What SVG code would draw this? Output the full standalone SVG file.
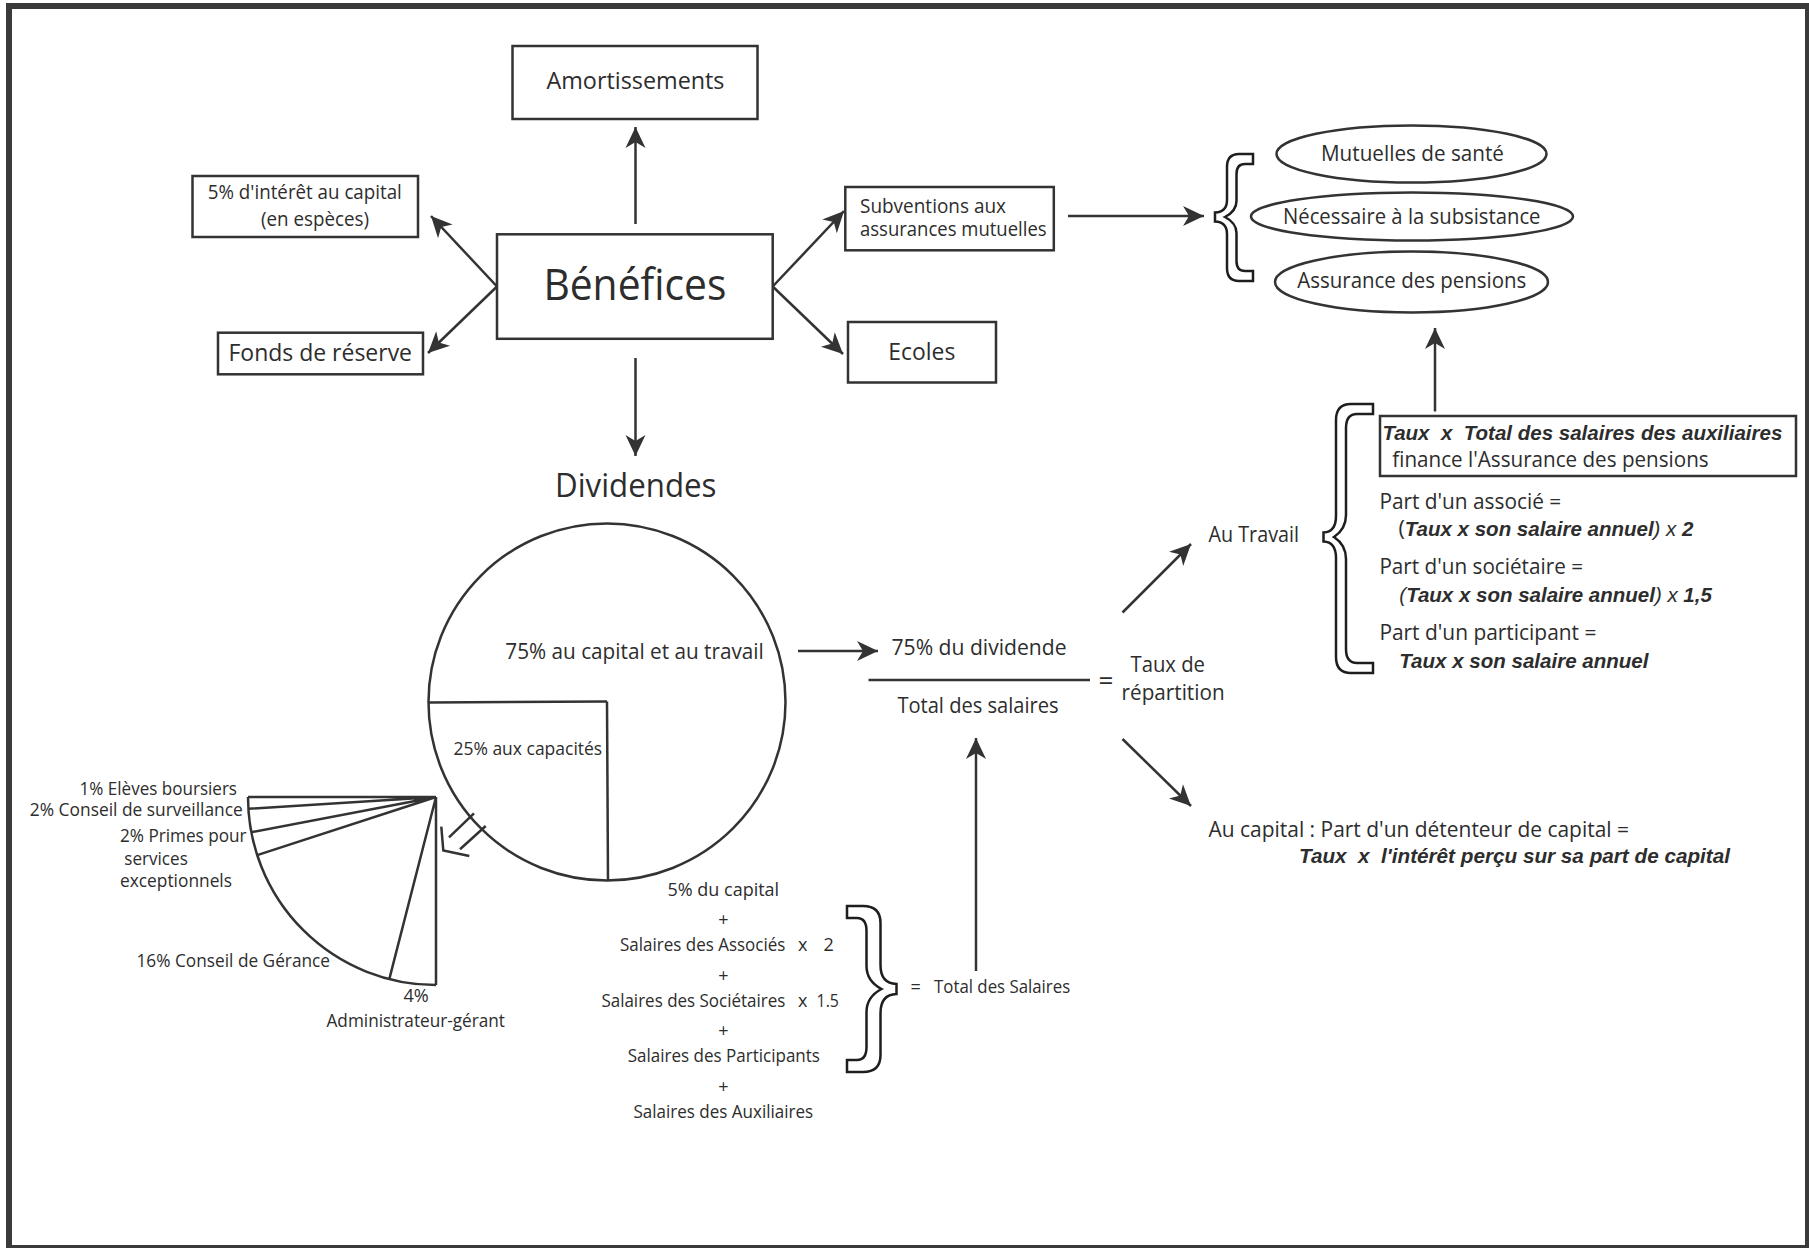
<svg xmlns="http://www.w3.org/2000/svg" width="1809" height="1248" viewBox="0 0 1809 1248">
<defs>
<style>
.ln{stroke:#333;stroke-width:2.5;fill:none}
.bx{fill:#fff;stroke:#333;stroke-width:2.5}
.br{fill:#fff;stroke:#1e1e1e;stroke-width:2.5;stroke-linejoin:miter}
.t{font-family:"Open Sans","Noto Sans",sans-serif;fill:#2d2d2d}
.bi{font-family:"Liberation Sans",Arial,sans-serif;font-weight:bold;font-style:italic;fill:#2d2d2d}
.it{font-family:"Liberation Sans",Arial,sans-serif;font-style:italic;fill:#2d2d2d}
</style>
<marker id="ah" viewBox="-22 -11 23 22" markerWidth="23" markerHeight="22" refX="0" refY="0" orient="auto" markerUnits="userSpaceOnUse">
<path d="M0,0 L-21,-10 L-15,0 L-21,10 Z" fill="#333"/>
</marker>
</defs>
<rect x="0" y="0" width="1809" height="1248" fill="#fff"/>
<rect x="9" y="6" width="1799" height="1242" fill="none" stroke="#3a3a3a" stroke-width="6"/>

<g id="connectors">
<line class="ln" x1="635.5" y1="224" x2="635.5" y2="127" marker-end="url(#ah)"/>
<line class="ln" x1="497" y1="286.5" x2="431" y2="216" marker-end="url(#ah)"/>
<line class="ln" x1="497" y1="286.5" x2="428" y2="353" marker-end="url(#ah)"/>
<line class="ln" x1="635.5" y1="358" x2="635.5" y2="456" marker-end="url(#ah)"/>
<line class="ln" x1="772.7" y1="286.5" x2="844" y2="211" marker-end="url(#ah)"/>
<line class="ln" x1="772.7" y1="286.5" x2="843" y2="354" marker-end="url(#ah)"/>
<line class="ln" x1="1068" y1="216" x2="1204" y2="216" marker-end="url(#ah)"/>
<line class="ln" x1="1435" y1="411.5" x2="1435" y2="328" marker-end="url(#ah)"/>
<line class="ln" x1="798" y1="651" x2="878" y2="651" marker-end="url(#ah)"/>
<line class="ln" x1="976" y1="971" x2="976" y2="738" marker-end="url(#ah)"/>
<line class="ln" x1="1122.5" y1="612.5" x2="1191" y2="544" marker-end="url(#ah)"/>
<line class="ln" x1="1122.5" y1="739" x2="1191" y2="806" marker-end="url(#ah)"/>
<line class="ln" x1="474" y1="813.3" x2="449" y2="837.3"/>
<line class="ln" x1="485.7" y1="826" x2="460" y2="849.3"/>
<polyline class="ln" points="441.3,826.7 443.3,850.5 469.3,856"/>
</g>

<g id="amortissements">
<rect class="bx" x="512.5" y="46" width="245" height="73"/>
<text class="t" x="546.5" y="89.3" font-size="24.5" textLength="178" lengthAdjust="spacingAndGlyphs">Amortissements</text>
</g>

<g id="interet-capital">
<rect class="bx" x="192.5" y="176" width="225.5" height="61"/>
<text class="t" x="207.8" y="198.8" font-size="19.5" textLength="194" lengthAdjust="spacingAndGlyphs">5% d'intérêt au capital</text>
<text class="t" x="261" y="225.5" font-size="19.5" textLength="108" lengthAdjust="spacingAndGlyphs">(en espèces)</text>
</g>

<g id="benefices">
<rect class="bx" x="497" y="234.3" width="275.7" height="104.5"/>
<text class="t" x="543.4" y="300" font-size="43" textLength="183" lengthAdjust="spacingAndGlyphs">Bénéfices</text>
</g>

<g id="fonds-reserve">
<rect class="bx" x="218" y="332.7" width="205" height="41.6"/>
<text class="t" x="228.5" y="361" font-size="24.5" textLength="183.5" lengthAdjust="spacingAndGlyphs">Fonds de réserve</text>
</g>

<g id="subventions">
<rect class="bx" x="845.3" y="187" width="208.5" height="63.3"/>
<text class="t" x="860" y="212.5" font-size="19.8" textLength="146" lengthAdjust="spacingAndGlyphs">Subventions aux</text>
<text class="t" x="860" y="236" font-size="19.8" textLength="186.6" lengthAdjust="spacingAndGlyphs">assurances mutuelles</text>
</g>

<g id="ecoles">
<rect class="bx" x="848" y="322" width="148" height="60.5"/>
<text class="t" x="888.3" y="359.5" font-size="24.2" textLength="67" lengthAdjust="spacingAndGlyphs">Ecoles</text>
</g>

<g id="dividendes">
<text class="t" x="555" y="496.5" font-size="32.7" textLength="161.5" lengthAdjust="spacingAndGlyphs">Dividendes</text>
</g>

<g id="brace-assurances">
<path class="br" d="M1253,154 L1253,164 L1245,164 Q1236.5,164 1236.5,174 L1236.5,201 Q1236.5,211 1225,217 Q1236.5,223 1236.5,233 L1236.5,261 Q1236.5,271 1245,271 L1253,271 L1253,281 L1239,281 Q1227,281 1227,268 L1227,234 Q1227,222 1215,221.5 L1215,212.5 Q1227,212 1227,200 L1227,167 Q1227,154 1239,154 Z"/>
</g>

<g id="mutuelles-sante">
<ellipse class="bx" cx="1411.5" cy="154" rx="135" ry="28.5"/>
<text class="t" x="1321" y="161.3" font-size="21.8" textLength="183" lengthAdjust="spacingAndGlyphs">Mutuelles de santé</text>
</g>

<g id="subsistance">
<ellipse class="bx" cx="1412" cy="216.5" rx="161" ry="24"/>
<text class="t" x="1283" y="223.5" font-size="21.8" textLength="257.5" lengthAdjust="spacingAndGlyphs">Nécessaire à la subsistance</text>
</g>

<g id="assurance-pensions">
<ellipse class="bx" cx="1411.5" cy="282" rx="136.5" ry="30.5"/>
<text class="t" x="1297.3" y="288.4" font-size="21.8" textLength="229" lengthAdjust="spacingAndGlyphs">Assurance des pensions</text>
</g>

<g id="pie-dividende">
<circle class="ln" cx="607" cy="702" r="178.5"/>
<line class="ln" x1="428.5" y1="702.5" x2="607" y2="701.5" stroke-width="3"/>
<line class="ln" x1="607" y1="701.5" x2="608" y2="880.5"/>
<text class="t" x="505.3" y="659" font-size="21.8" textLength="258.5" lengthAdjust="spacingAndGlyphs">75% au capital et au travail</text>
<text class="t" x="453.4" y="754.7" font-size="18.3" textLength="148.8" lengthAdjust="spacingAndGlyphs">25% aux capacités</text>
</g>

<g id="pie-capacites">
<path class="ln" d="M248,797 A188,188 0 0 0 436,985"/>
<path class="ln" d="M436,797 L248,797 M436,797 L248.4,808.8 M436,797 L251.3,832.2 M436,797 L257.2,855.1 M436,797 L389.3,979.1 M436,797 L436,985"/>
<text class="t" x="79.5" y="794.5" font-size="18.1" textLength="157.5" lengthAdjust="spacingAndGlyphs">1% Elèves boursiers</text>
<text class="t" x="29.8" y="816.3" font-size="18.1" textLength="213" lengthAdjust="spacingAndGlyphs">2% Conseil de surveillance</text>
<text class="t" x="120" y="841.5" font-size="18.1" textLength="126.6" lengthAdjust="spacingAndGlyphs">2% Primes pour</text>
<text class="t" x="124.3" y="865" font-size="18.1" textLength="63.5" lengthAdjust="spacingAndGlyphs">services</text>
<text class="t" x="120" y="887.2" font-size="18.1" textLength="112" lengthAdjust="spacingAndGlyphs">exceptionnels</text>
<text class="t" x="136.5" y="966.8" font-size="18.1" textLength="193.5" lengthAdjust="spacingAndGlyphs">16% Conseil de Gérance</text>
<text class="t" x="403.5" y="1001.5" font-size="18.1" textLength="25.3" lengthAdjust="spacingAndGlyphs">4%</text>
<text class="t" x="326.5" y="1026.5" font-size="18.1" textLength="178.5" lengthAdjust="spacingAndGlyphs">Administrateur-gérant</text>
</g>

<g id="fraction">
<text class="t" x="891.5" y="655" font-size="21.8" textLength="175" lengthAdjust="spacingAndGlyphs">75% du dividende</text>
<line class="ln" x1="868.5" y1="680" x2="1090" y2="680"/>
<text class="t" x="897.4" y="713" font-size="21.8" textLength="161.2" lengthAdjust="spacingAndGlyphs">Total des salaires</text>
<text class="t" x="1106" y="690" font-size="26" text-anchor="middle">=</text>
</g>

<g id="taux-repartition">
<text class="t" x="1130.5" y="672" font-size="21.8" textLength="74.5" lengthAdjust="spacingAndGlyphs">Taux de</text>
<text class="t" x="1121.6" y="700" font-size="21.8" textLength="103" lengthAdjust="spacingAndGlyphs">répartition</text>
</g>

<g id="total-salaires">
<text class="t" x="723.3" y="895.5" font-size="18" text-anchor="middle">5% du capital</text>
<text class="t" x="723.4" y="926" font-size="18" text-anchor="middle">+</text>
<text class="t" x="620" y="950.7" font-size="18" textLength="165.4" lengthAdjust="spacingAndGlyphs">Salaires des Associés</text>
<text class="t" x="798" y="950.7" font-size="18">x</text>
<text class="t" x="823.5" y="950.7" font-size="18">2</text>
<text class="t" x="723.4" y="981.5" font-size="18" text-anchor="middle">+</text>
<text class="t" x="601.4" y="1006.5" font-size="18" textLength="184" lengthAdjust="spacingAndGlyphs">Salaires des Sociétaires</text>
<text class="t" x="798" y="1006.5" font-size="18">x</text>
<text class="t" x="816.6" y="1006.5" font-size="18" textLength="22.3" lengthAdjust="spacingAndGlyphs">1.5</text>
<text class="t" x="723.4" y="1036.5" font-size="18" text-anchor="middle">+</text>
<text class="t" x="627.7" y="1062" font-size="18" textLength="192.3" lengthAdjust="spacingAndGlyphs">Salaires des Participants</text>
<text class="t" x="723.4" y="1093" font-size="18" text-anchor="middle">+</text>
<text class="t" x="633.5" y="1118" font-size="18" textLength="179.7" lengthAdjust="spacingAndGlyphs">Salaires des Auxiliaires</text>
<path class="br" d="M847,906 L847,918 L857,918 Q866.5,918 866.5,931 L866.5,966 Q866.5,981 881.5,989 Q866.5,997 866.5,1012 L866.5,1047 Q866.5,1060 857,1060 L847,1060 L847,1072 L863,1072 Q880.5,1072 880.5,1055 L880.5,1013 Q880.5,994.5 896.5,994 L896.5,984 Q880.5,983.5 880.5,965 L880.5,923 Q880.5,906 863,906 Z"/>
<text class="t" x="910.4" y="993" font-size="18">=</text>
<text class="t" x="934" y="993" font-size="18" textLength="136.2" lengthAdjust="spacingAndGlyphs">Total des Salaires</text>
</g>

<g id="au-travail">
<text class="t" x="1208.5" y="541.5" font-size="21.8" textLength="90.5" lengthAdjust="spacingAndGlyphs">Au Travail</text>
<path class="br" d="M1373,404 L1373,414 L1357,414 Q1346,414 1346,428 L1346,515 Q1346,529 1334,537 Q1346,545 1346,559 L1346,649 Q1346,663 1357,663 L1373,663 L1373,673 L1351,673 Q1336,673 1336,657 L1336,558 Q1336,542 1323.5,541.5 L1323.5,532.5 Q1336,532 1336,516 L1336,420 Q1336,404 1351,404 Z"/>
</g>

<g id="auxiliaires-pensions">
<rect class="bx" x="1380" y="416" width="416" height="60"/>
<text class="bi" x="1382.4" y="440" font-size="20.5" xml:space="preserve" textLength="400" lengthAdjust="spacingAndGlyphs">Taux  x  Total des salaires des auxiliaires</text>
<text class="t" x="1392.3" y="467" font-size="21.8" textLength="316.4" lengthAdjust="spacingAndGlyphs">finance l'Assurance des pensions</text>
</g>

<g id="part-associe">
<text class="t" x="1379.4" y="508.5" font-size="21.8" textLength="181.8" lengthAdjust="spacingAndGlyphs">Part d'un associé =</text>
<text x="1398.4" y="536" font-size="20.5" xml:space="preserve"><tspan class="t" font-size="21.8">(</tspan><tspan class="bi">Taux x son salaire annuel</tspan><tspan class="it">) x </tspan><tspan class="bi">2</tspan></text>
</g>

<g id="part-societaire">
<text class="t" x="1379.4" y="574" font-size="21.8" textLength="203.6" lengthAdjust="spacingAndGlyphs">Part d'un sociétaire =</text>
<text x="1399.3" y="602" font-size="20.5" xml:space="preserve"><tspan class="it">(</tspan><tspan class="bi">Taux x son salaire annuel</tspan><tspan class="it">) x </tspan><tspan class="bi">1,5</tspan></text>
</g>

<g id="part-participant">
<text class="t" x="1379.4" y="640.3" font-size="21.8" textLength="217" lengthAdjust="spacingAndGlyphs">Part d'un participant =</text>
<text class="bi" x="1399.3" y="668" font-size="20.5" textLength="249.2" lengthAdjust="spacingAndGlyphs">Taux x son salaire annuel</text>
</g>

<g id="au-capital">
<text class="t" x="1208.5" y="837" font-size="21.8" textLength="420.5" lengthAdjust="spacingAndGlyphs">Au capital : Part d'un détenteur de capital =</text>
<text class="bi" x="1299" y="863.3" font-size="20.5" xml:space="preserve" textLength="431" lengthAdjust="spacingAndGlyphs">Taux  x  l'intérêt perçu sur sa part de capital</text>
</g>
</svg>
